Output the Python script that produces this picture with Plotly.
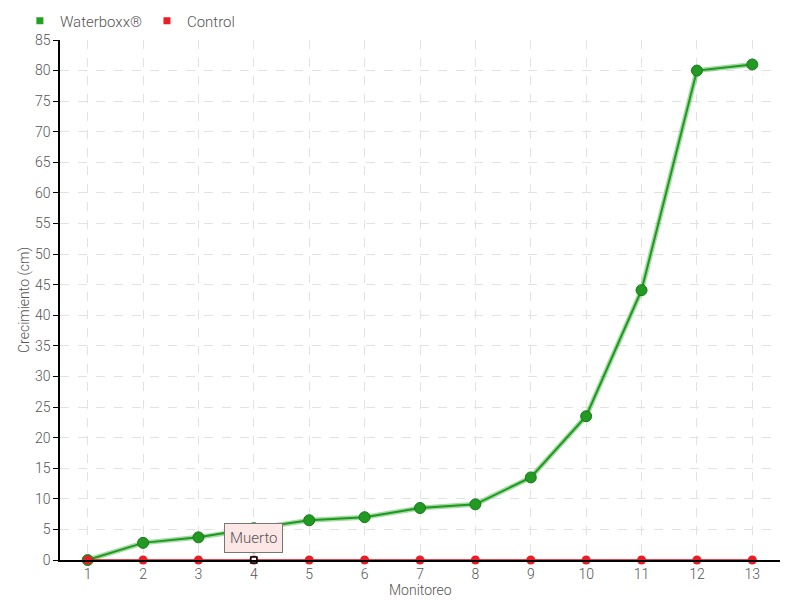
import plotly.graph_objects as go

categories = list(range(1, 14))
waterboxx = [0, 2.8, 3.7, 5.2, 6.5, 7.0, 8.5, 9.1, 13.5, 23.5, 44.1, 80.0, 81.0]
control = [0] * 13
y_ticks = list(range(0, 90, 5))

font_family = "Roboto, sans-serif"
text_color = "#555555"

fig = go.Figure()
# soft shadow under green line
fig.add_trace(go.Scatter(x=categories, y=waterboxx, mode="lines",
                         line=dict(color="rgba(60,170,60,0.45)", width=5),
                         showlegend=False, hoverinfo="skip", cliponaxis=False))
fig.add_trace(go.Scatter(x=categories, y=waterboxx, mode="lines+markers", name="Waterboxx®",
                         line=dict(color="#1c9a1c", width=2),
                         marker=dict(color="#229922", size=11, symbol="circle",
                                     line=dict(color="#187a18", width=1)),
                         cliponaxis=False, showlegend=False))
fig.add_trace(go.Scatter(x=categories, y=control, mode="lines+markers", name="Control",
                         line=dict(color="#dd0a1a", width=1.5),
                         marker=dict(color="#ee1c25", size=9, symbol="circle"),
                         cliponaxis=False, showlegend=False))
# legend-only entries with square swatches
fig.add_trace(go.Scatter(x=[None], y=[None], mode="markers", name="Waterboxx®",
                         marker=dict(color="#22a022", size=7, symbol="square")))
fig.add_trace(go.Scatter(x=[None], y=[None], mode="markers", name="Control",
                         marker=dict(color="#ee1c25", size=7, symbol="square")))
# highlighted point 4
fig.add_trace(go.Scatter(x=[categories[3]], y=[control[3]], mode="markers",
                         marker=dict(color="white", size=6, symbol="square",
                                     line=dict(color="black", width=1.5)),
                         showlegend=False, hoverinfo="skip", cliponaxis=False))

fig.add_annotation(x=categories[3], y=control[3], text="Muerto", showarrow=True,
                   arrowhead=0, arrowwidth=1, arrowcolor="#777777", ax=0, ay=-16,
                   yshift=6,
                   bgcolor="#fde6e6", bordercolor="#777777", borderwidth=1, borderpad=5,
                   font=dict(family=font_family, size=15, color=text_color, weight=300))

# axis titles
fig.add_annotation(xref="paper", yref="paper", x=0.5, y=-0.0577, text="Monitoreo",
                   showarrow=False, xanchor="center", yanchor="middle",
                   font=dict(family=font_family, size=14, color=text_color, weight=300))
fig.add_annotation(xref="paper", yref="paper", x=-0.05, y=0.5, text="Crecimiento (cm)",
                   showarrow=False, xanchor="center", yanchor="middle", textangle=-90,
                   font=dict(family=font_family, size=14, color=text_color, weight=300))

fig.update_layout(
    width=792, height=592,
    margin=dict(l=52, r=20, t=32, b=40, autoexpand=False),
    plot_bgcolor="white", paper_bgcolor="white",
    font=dict(family=font_family, size=15, color=text_color, weight=300),
    legend=dict(orientation="h", x=0.015, y=0.978, xanchor="left", yanchor="middle",
                xref="container", yref="container", bgcolor="rgba(0,0,0,0)",
                font=dict(size=15, color=text_color, weight=300), itemwidth=30,
                tracegroupgap=0, traceorder="normal"),
    xaxis=dict(range=[0.5, 13.5], tickmode="array", tickvals=categories,
               ticktext=[str(c) for c in categories],
               showgrid=True, gridcolor="#e2e2e2", griddash="dash",
               showline=True, linecolor="black", linewidth=1.5,
               ticks="", zeroline=False, automargin=False,
               tickfont=dict(size=14)),
    yaxis=dict(range=[0, 85], tickmode="array", tickvals=y_ticks,
               showgrid=True, gridcolor="#e2e2e2", griddash="dash",
               showline=True, linecolor="black", linewidth=1.5,
               ticks="outside", ticklen=5, tickcolor="black", zeroline=False,
               automargin=False, tickfont=dict(size=14)),
    hovermode=False,
)

fig.write_html("out.html")
